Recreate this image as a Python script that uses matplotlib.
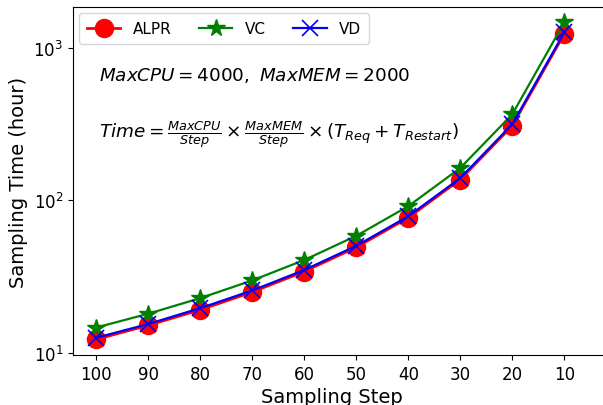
import numpy as np
import matplotlib
matplotlib.use("Agg")
import matplotlib.pyplot as plt
from matplotlib.ticker import NullLocator

# Data
steps = ["100", "90", "80", "70", "60", "50", "40", "30", "20", "10"]
alpr = [12.3, 15.2, 19.2, 25.1, 34.2, 49.3, 77.0, 137, 308, 1230]
vc = [14.7, 18.1, 22.9, 29.9, 40.7, 58.6, 91.6, 163, 366, 1465]
vd = [12.6, 15.5, 19.7, 25.7, 35.0, 50.4, 78.7, 140, 315, 1260]

x = np.arange(len(steps))

fig = plt.figure(figsize=(6.03, 4.06), dpi=100)
ax = fig.add_axes([0.121, 0.123, 0.95, 0.857])

ax.plot(x, alpr, color="red", marker="o", markersize=13, linewidth=2, label="ALPR")
ax.plot(x, vc, color="green", marker="*", markersize=13, linewidth=1.6, label="VC")
ax.plot(x, vd, color="blue", marker="x", markersize=12, markeredgewidth=1.2,
        linewidth=1.6, label="VD")

ax.set_yscale("log")
ax.yaxis.set_minor_locator(NullLocator())
ax.set_ylim(9.7, 1846)
ax.set_xlim(-0.45, 10.57)
ax.set_xticks(x)
ax.set_xticklabels(steps)
ax.tick_params(labelsize=12)

# label kept fully inside the figure
ax.set_xlabel("Sampling Step", fontsize=14)
ax.xaxis.set_label_coords(0.452, -0.092)
ax.set_ylabel("Sampling Time (hour)", fontsize=14)

ax.text(0.045, 0.805, r"$MaxCPU = 4000,\ MaxMEM = 2000$", transform=ax.transAxes,
        fontsize=13.2, va="center")
ax.text(0.045, 0.635,
        r"$Time = \frac{MaxCPU}{Step} \times \frac{MaxMEM}{Step} \times (T_{Req} + T_{Restart})$",
        transform=ax.transAxes, fontsize=13.2, va="center")

ax.legend(loc="upper left", ncol=3, fontsize=11, columnspacing=1.8,
          handlelength=2.2, markerscale=1.0, bbox_to_anchor=(0.0, 1.0),
          borderaxespad=0.4, borderpad=0.5)

fig.savefig("out.png", dpi=100)
